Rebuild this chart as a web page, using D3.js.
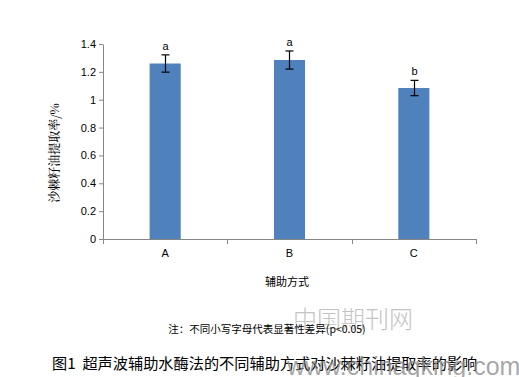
<!DOCTYPE html>
<html>
<head>
<meta charset="utf-8">
<script src="https://cdn.jsdelivr.net/npm/d3@7"></script>
<style>
  body { margin: 0; background: #fff; }
  svg { display: block; }
  .tick text { font-family: "Liberation Sans", Arial, sans-serif; font-size: 11px; fill: #000; }
</style>
</head>
<body>
<div class="chart"></div>
<script>
// data
const categories = ['A', 'B', 'C']
const values = [1.26, 1.285, 1.084]
const errors = [0.062, 0.065, 0.055]
const letters = ['a', 'a', 'b']
const yTicks = [0, 0.2, 0.4, 0.6, 0.8, 1, 1.2, 1.4]

const W = 519, H = 377
const margin = { top: 44, left: 103, right: 43, bottom: 138 }
const width = W - margin.left - margin.right
const height = H - margin.top - margin.bottom

const svg = d3.select('.chart')
    .append('svg')
    .attr('width', W)
    .attr('height', H)

const g = svg.append('g')
    .attr('transform', `translate(${margin.left}, ${margin.top})`)

const xScale = d3.scaleBand()
    .domain(categories)
    .range([0, width])
    .paddingInner(0.75)
    .paddingOuter(0.375)
const yScale = d3.scaleLinear()
    .domain([0, 1.4])
    .range([height, 0])

// bars
g.selectAll('rect.bar')
    .data(values)
    .enter()
    .append('rect')
    .attr('class', 'bar')
    .attr('x', (d, i) => xScale(categories[i]))
    .attr('y', d => yScale(d))
    .attr('width', xScale.bandwidth())
    .attr('height', d => height - yScale(d))
    .attr('fill', '#4F81BD')

// error bars
const eb = g.selectAll('g.err')
    .data(values)
    .enter()
    .append('g')
    .attr('class', 'err')
    .attr('stroke', '#000')
    .attr('stroke-width', 1.2)
const cx = (d, i) => Math.round(xScale(categories[i]) + xScale.bandwidth() / 2) + 0.5
eb.append('line')
    .attr('x1', cx).attr('x2', cx)
    .attr('y1', (d, i) => yScale(d + errors[i]))
    .attr('y2', (d, i) => yScale(d - errors[i]))
eb.append('line')
    .attr('x1', (d, i) => cx(d, i) - 4).attr('x2', (d, i) => cx(d, i) + 4)
    .attr('y1', (d, i) => yScale(d + errors[i]))
    .attr('y2', (d, i) => yScale(d + errors[i]))
eb.append('line')
    .attr('x1', (d, i) => cx(d, i) - 4).attr('x2', (d, i) => cx(d, i) + 4)
    .attr('y1', (d, i) => yScale(d - errors[i]))
    .attr('y2', (d, i) => yScale(d - errors[i]))

// significance letters
g.selectAll('text.sig')
    .data(values)
    .enter()
    .append('text')
    .attr('class', 'sig')
    .attr('x', cx)
    .attr('y', (d, i) => yScale(d + errors[i]) - 5)
    .attr('text-anchor', 'middle')
    .style('font-family', '"Liberation Sans", Arial, sans-serif')
    .style('font-size', '11px')
    .text((d, i) => letters[i])

// axes
g.append('g')
    .call(d3.axisLeft(yScale).tickValues(yTicks).tickSize(4).tickSizeOuter(0)
        .tickFormat(d => d3.format('~g')(d)))
g.append('g')
    .attr('transform', `translate(0, ${height})`)
    .call(d3.axisBottom(xScale).tickSize(0).tickSizeOuter(0).tickPadding(10))

// category boundary ticks, like Excel
const step = xScale.step()
const x0 = xScale(categories[0]) - xScale.paddingOuter() * step
g.append('g')
    .selectAll('line')
    .data(d3.range(categories.length + 1))
    .enter()
    .append('line')
    .attr('x1', i => Math.round(x0 + i * step) + 0.5)
    .attr('x2', i => Math.round(x0 + i * step) + 0.5)
    .attr('y1', height)
    .attr('y2', height + 5)
    .attr('stroke', '#868686')

svg.selectAll('.domain, .tick line').attr('stroke', '#868686')

// axis titles
svg.append('text')
    .attr('transform', `translate(59, ${margin.top + 109}) rotate(-90)`)
    .attr('text-anchor', 'middle')
    .style('font-family', '"Noto Serif CJK SC", "Noto Sans CJK SC", serif')
    .style('font-size', '12px')
    .style('font-weight', 500)
    .text('沙棘籽油提取率/%')
svg.append('text')
    .attr('x', 287)
    .attr('y', 286)
    .attr('text-anchor', 'middle')
    .style('font-family', '"Noto Sans CJK SC", sans-serif')
    .style('font-size', '11px')
    .text('辅助方式')

// watermark
svg.append('text')
    .attr('x', 293)
    .attr('y', 328)
    .style('font-family', '"Noto Sans CJK SC", sans-serif')
    .style('font-size', '24px')
    .style('font-weight', 300)
    .attr('fill', '#c4c4c4')
    .text('中国期刊网')

// note and caption
svg.append('text')
    .attr('x', 267)
    .attr('y', 333)
    .attr('text-anchor', 'middle')
    .style('font-family', '"Noto Sans CJK SC", sans-serif')
    .style('font-size', '10.5px')
    .text('注：不同小写字母代表显著性差异(p<0.05)')
svg.append('text')
    .attr('x', 52)
    .attr('y', 369)
    .style('font-family', '"Noto Sans CJK SC", sans-serif')
    .style('font-size', '15.2px')
    .style('white-space', 'pre')
    .text('图1  超声波辅助水酶法的不同辅助方式对沙棘籽油提取率的影响')
svg.append('text')
    .attr('x', 287)
    .attr('y', 375)
    .style('font-family', '"Liberation Sans", Arial, sans-serif')
    .style('font-size', '25px')
    .attr('fill', '#8a8a8a')
    .attr('fill-opacity', 0.75)
    .text('www.chinaqking.com')
</script>
</body>
</html>
